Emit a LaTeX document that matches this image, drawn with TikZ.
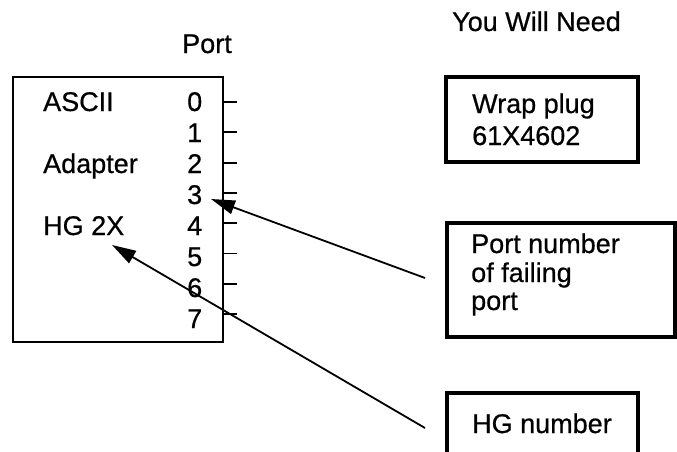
\documentclass[tikz,border=0pt]{standalone}
\usepackage{fontspec}
\setmainfont{Liberation Sans}[FakeBold=0.6]
\usetikzlibrary{arrows.meta}
\begin{document}
\begin{tikzpicture}[x=1pt,y=-1pt,
  lbl/.style={anchor=base west, inner sep=0pt, font=\fontsize{27}{30}\selectfont},
  thinbox/.style={draw, line width=2.2pt, inner sep=0pt},
  thickbox/.style={draw, line width=3.5pt, inner sep=0pt},
  porttick/.style={line width=1.8pt},
  pointer/.style={line width=1.8pt, -{Triangle[length=24pt,width=14pt]}}]
\useasboundingbox (0,0) rectangle (677,452);

% headings
\node[lbl] (porthead) at (182,53) {Port};
\node[lbl] (needhead) at (452,31) {You Will Need};

% adapter box
\node[thinbox, minimum width=210pt, minimum height=265pt] (adapter) at (118,209.5) {};
\node[lbl] (ascii) at (43,111) {ASCII};
\node[lbl] (adap) at (43,173) {Adapter};
\node[lbl] (hg2x) at (43,235) {HG 2X};
\foreach \i in {0,...,7}{
  \node[lbl] (n\i) at (187,{111+31*\i}) {\i};
  \draw[porttick] (223,{102+30.3*\i}) -- (237,{102+30.3*\i});
}

% right boxes
\node[thickbox, minimum width=192pt, minimum height=85pt] (wrapbox) at (542,119.5) {};
\node[lbl] (wrap1) at (472,113) {Wrap plug};
\node[lbl] (wrap2) at (472,145) {61X4602};

\node[thickbox, minimum width=228pt, minimum height=114pt] (portbox) at (561,280) {};
\node[lbl] (pn1) at (471,253) {Port number};
\node[lbl] (pn2) at (471,282) {of failing};
\node[lbl] (pn3) at (471,310) {port};

\draw[line width=3.5pt] (447,460) -- (447,393) -- (638,393) -- (638,460);
\node[lbl] (hgnum) at (472,433) {HG number};

% pointers
\coordinate (s1) at (425,278);
\coordinate (t1) at (211,199);
\coordinate (s2) at (425,428);
\coordinate (t2) at (112,245);
\draw[pointer] (s1) -- (t1);
\draw[pointer] (s2) -- (t2);
\end{tikzpicture}
\end{document}
